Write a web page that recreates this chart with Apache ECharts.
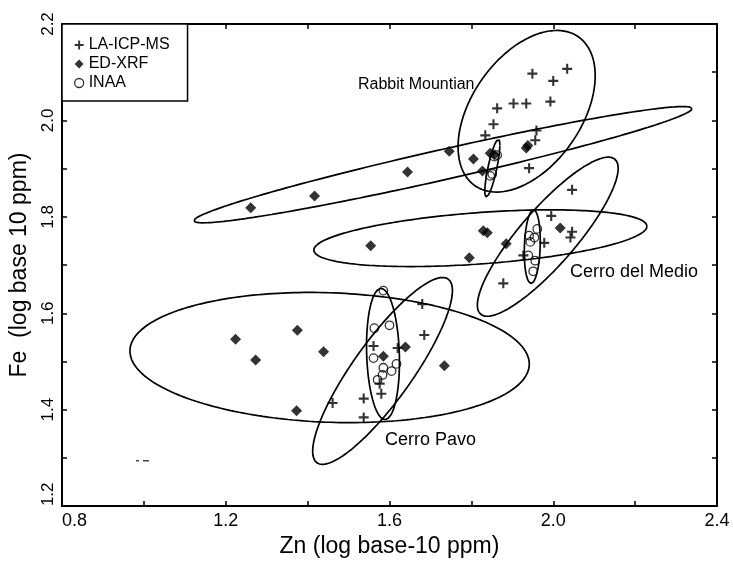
<!DOCTYPE html>
<html>
<head>
<meta charset="utf-8">
<script src="https://cdn.jsdelivr.net/npm/echarts@6/dist/echarts.min.js"></script>
<style>
  html, body { margin: 0; padding: 0; background: #fff; }
  #chart { width: 733px; height: 563px; }
</style>
</head>
<body>
<div id="chart"></div>
<script>
// Zn / Fe (log10 ppm) by analytical method
const laIcpMs = [
  [1.949, 2.097], [2.034, 2.107], [2.000, 2.082], [1.863, 2.025], [1.903, 2.035],
  [1.934, 2.035], [1.993, 2.039], [1.854, 1.992], [1.834, 1.969], [1.959, 1.979],
  [1.956, 1.959], [1.941, 1.901],
  [2.046, 1.856], [1.995, 1.802], [2.046, 1.769], [2.042, 1.757], [1.978, 1.746],
  [1.927, 1.720], [1.878, 1.662],
  [1.680, 1.619], [1.685, 1.555], [1.561, 1.532], [1.620, 1.528], [1.576, 1.454],
  [1.580, 1.433], [1.537, 1.423], [1.537, 1.384], [1.461, 1.414]
];
const edXrf = [
  [1.261, 1.819], [1.417, 1.843], [1.644, 1.893], [1.746, 1.936], [1.805, 1.920],
  [1.827, 1.895], [1.846, 1.932], [1.856, 1.929], [1.934, 1.943], [1.938, 1.948],
  [1.554, 1.740], [1.829, 1.771], [1.839, 1.767], [1.885, 1.744], [1.795, 1.715],
  [2.017, 1.777],
  [1.224, 1.546], [1.375, 1.565], [1.273, 1.503], [1.439, 1.520], [1.373, 1.398],
  [1.639, 1.530], [1.585, 1.511], [1.734, 1.491]
];
const inaa = [
  [1.863, 1.928], [1.856, 1.925], [1.851, 1.889], [1.846, 1.885],
  [1.961, 1.775], [1.941, 1.761], [1.954, 1.757], [1.944, 1.748], [1.939, 1.720],
  [1.956, 1.709], [1.951, 1.687],
  [1.585, 1.647], [1.563, 1.569], [1.600, 1.575], [1.561, 1.507], [1.585, 1.487],
  [1.605, 1.480], [1.617, 1.495], [1.571, 1.462], [1.583, 1.472]
];

// Confidence ellipses: [centre Zn, centre Fe, half-extent Zn, half-extent Fe, correlation]
const rabbitEllipses = [
  [1.935, 2.019, 0.1675, 0.1676, 0.44],
  [1.7305, 1.9082, 0.6085, 0.1206, 0.964],
  [1.8512, 1.901, 0.0183, 0.0598, 0.80]
];
const medioEllipses = [
  [1.9866, 1.7588, 0.172, 0.165, 0.86],
  [1.822, 1.7557, 0.407, 0.0588, 0.42],
  [1.9488, 1.7381, 0.0195, 0.0763, 0.15]
];
const pavoEllipses = [
  [1.4537, 1.5082, 0.4878, 0.135, -0.10],
  [1.583, 1.4804, 0.1707, 0.1938, 0.86],
  [1.5841, 1.5155, 0.0402, 0.136, -0.12]
];

const xTickLabels = ['0.8', '1.2', '1.6', '2.0', '2.4'];
const yTickLabels = ['1.2', '1.4', '1.6', '1.8', '2.0', '2.2'];
const sourceNames = ['Rabbit Mountian', 'Cerro del Medio', 'Cerro Pavo'];

const FONT = 'Liberation Sans, Arial, Helvetica, sans-serif';
const PLUS = 'path://M3.95,0H6.05V3.95H10V6.05H6.05V10H3.95V6.05H0V3.95H3.95Z';

// outline of an ellipse in data coordinates
function ellipseOutline(e) {
  const [cx, cy, rx, ry, r] = e;
  const k = Math.sqrt(1 - r * r);
  const pts = [];
  for (let i = 0; i <= 240; i++) {
    const t = (i / 240) * Math.PI * 2;
    pts.push([cx + rx * Math.cos(t), cy + ry * (r * Math.cos(t) + k * Math.sin(t))]);
  }
  return pts;
}

const ellipseSeries = [...rabbitEllipses, ...medioEllipses, ...pavoEllipses].map(e => ({
  type: 'line',
  data: ellipseOutline(e),
  showSymbol: false,
  symbol: 'none',
  silent: true,
  lineStyle: { color: '#000', width: 1.7 },
  z: 1
}));

const axisLineStyle = { color: '#000', width: 2 };
const tickStyle = { color: '#000', width: 1.5 };

const chart = echarts.init(document.getElementById('chart'), null, { renderer: 'canvas' });
chart.setOption({
  backgroundColor: '#fff',
  animation: false,
  grid: { left: 61, right: 16, top: 24, bottom: 55 },
  xAxis: [
    {
      type: 'value', min: 0.8, max: 2.4, interval: 0.2, position: 'bottom',
      name: 'Zn (log base-10 ppm)', nameLocation: 'middle', nameGap: 21,
      nameTextStyle: { fontSize: 23, color: '#000', fontFamily: FONT },
      axisLine: { lineStyle: axisLineStyle },
      axisTick: { inside: true, length: 5, lineStyle: tickStyle },
      splitLine: { show: false },
      axisLabel: {
        margin: 6, fontSize: 18, color: '#000', fontFamily: FONT, alignMinLabel: 'left',
        formatter: v => { const s = v.toFixed(1); return xTickLabels.includes(s) ? s : ''; }
      }
    },
    {
      type: 'value', min: 0.8, max: 2.4, interval: 0.2, position: 'top',
      axisLine: { lineStyle: axisLineStyle },
      axisTick: { inside: true, length: 5, lineStyle: tickStyle },
      axisLabel: { show: false }, splitLine: { show: false }
    }
  ],
  yAxis: [
    {
      type: 'value', min: 1.2, max: 2.2, interval: 0.1, position: 'left',
      name: 'Fe  (log base 10 ppm)', nameLocation: 'middle', nameGap: 31,
      nameTextStyle: { fontSize: 23, color: '#000', fontFamily: FONT },
      axisLine: { lineStyle: axisLineStyle },
      axisTick: { inside: true, length: 5, lineStyle: tickStyle },
      splitLine: { show: false },
      axisLabel: {
        rotate: 90, margin: 5, fontSize: 17, color: '#000', fontFamily: FONT, alignMinLabel: 'left',
        formatter: v => { const s = v.toFixed(1); return yTickLabels.includes(s) ? s : ''; }
      }
    },
    {
      type: 'value', min: 1.2, max: 2.2, interval: 0.1, position: 'right',
      axisLine: { lineStyle: axisLineStyle },
      axisTick: { inside: true, length: 5, lineStyle: tickStyle },
      axisLabel: { show: false }, splitLine: { show: false }
    }
  ],
  legend: {
    left: 62, top: 24, orient: 'vertical',
    data: [
      { name: 'LA-ICP-MS', icon: PLUS },
      { name: 'ED-XRF', icon: 'diamond' },
      { name: 'INAA', icon: 'circle', itemStyle: { color: 'rgba(0,0,0,0)', borderColor: '#000', borderWidth: 1.3 } }
    ],
    itemWidth: 9, itemHeight: 9, itemGap: 3,
    padding: [13, 18, 10, 12],
    borderColor: '#000', borderWidth: 1.5, backgroundColor: '#fff',
    textStyle: { fontSize: 16, color: '#000', fontFamily: FONT },
    selectedMode: false
  },
  series: [
    ...ellipseSeries,
    {
      name: 'LA-ICP-MS', type: 'scatter', data: laIcpMs, symbol: PLUS, symbolSize: 10,
      itemStyle: { color: '#000' }, z: 3
    },
    {
      name: 'ED-XRF', type: 'scatter', data: edXrf, symbol: 'diamond', symbolSize: [11, 11],
      itemStyle: { color: '#000' }, z: 3
    },
    {
      name: 'INAA', type: 'scatter', data: inaa, symbol: 'circle', symbolSize: 8.5,
      itemStyle: { color: 'rgba(0,0,0,0)', borderColor: '#000', borderWidth: 1.3 }, z: 3
    }
  ],
  graphic: [
    { type: 'text', x: 358, y: 85, style: { text: sourceNames[0], font: '16px ' + FONT, fill: '#000', textVerticalAlign: 'middle' } },
    { type: 'text', x: 570, y: 272, style: { text: sourceNames[1], font: '18px ' + FONT, fill: '#000', textVerticalAlign: 'middle' } },
    { type: 'text', x: 385, y: 440, style: { text: sourceNames[2], font: '18px ' + FONT, fill: '#000', textVerticalAlign: 'middle' } },
    { type: 'rect', shape: { x: 136, y: 460, width: 3, height: 1.5 }, style: { fill: '#444' } },
    { type: 'rect', shape: { x: 143, y: 460, width: 6, height: 1.5 }, style: { fill: '#444' } }
  ]
});
</script>
</body>
</html>
